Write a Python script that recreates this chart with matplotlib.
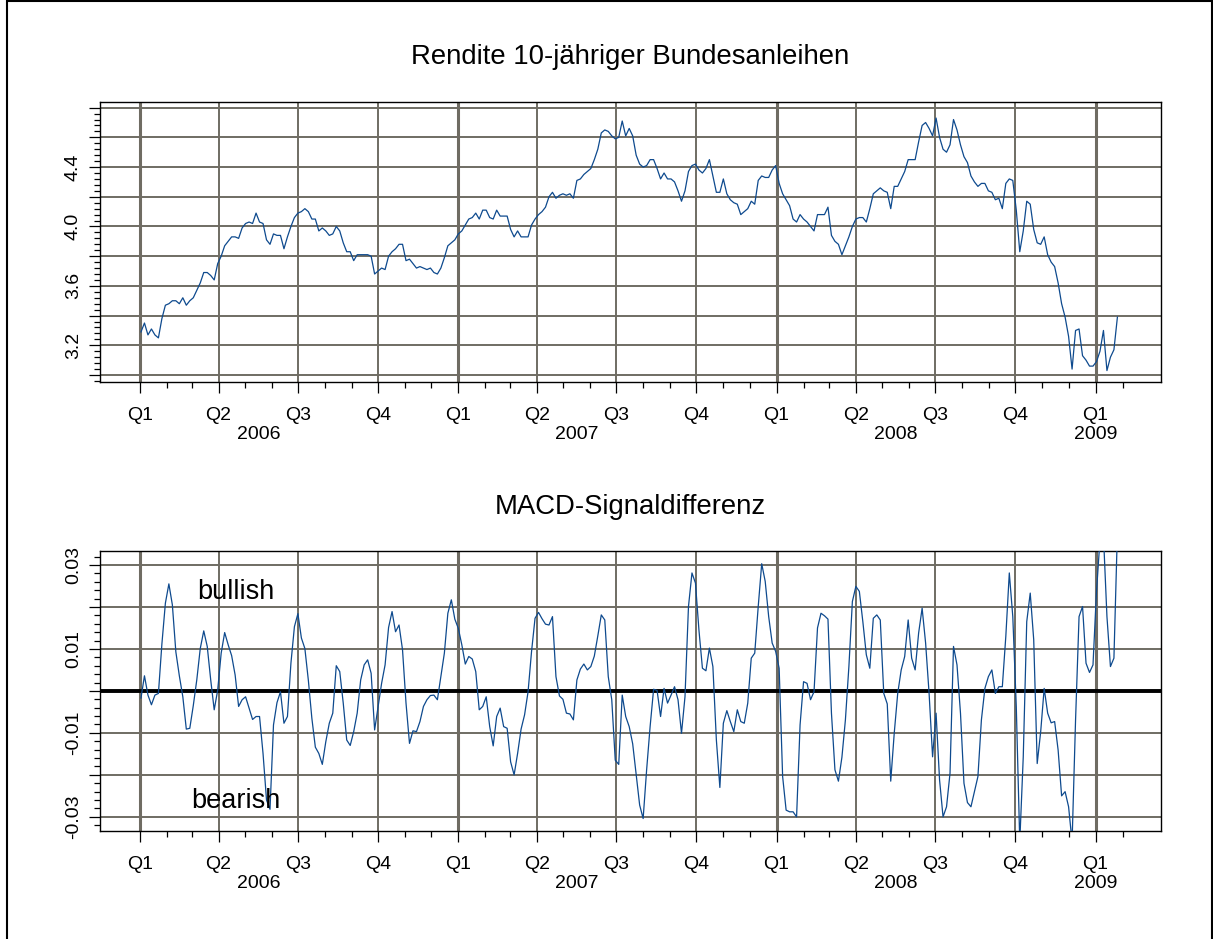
import numpy as np
import pandas as pd
import matplotlib
matplotlib.use("Agg")
import matplotlib.pyplot as plt
import matplotlib.dates as mdates
from matplotlib.patches import Rectangle

plt.rcParams['font.family'] = ['Liberation Sans', 'DejaVu Sans']

# values read every 4th calendar day, starting 2006-01-02
start_date = "2006-01-02"

yields = [
    3.29, 3.35, 3.27, 3.31, 3.27, 3.25, 3.38, 3.47, 3.48, 3.50,
    3.50, 3.48, 3.52, 3.47, 3.50, 3.52, 3.57, 3.62, 3.69, 3.69,
    3.67, 3.64, 3.75, 3.80, 3.87, 3.90, 3.93, 3.93, 3.92, 3.99,
    4.02, 4.03, 4.02, 4.09, 4.03, 4.02, 3.91, 3.88, 3.95, 3.94,
    3.94, 3.85, 3.93, 4.00, 4.06, 4.09, 4.10, 4.12, 4.10, 4.05,
    4.05, 3.97, 3.99, 3.97, 3.94, 3.95, 4.00, 3.97, 3.89, 3.83,
    3.83, 3.77, 3.81, 3.81, 3.81, 3.81, 3.80, 3.68, 3.70, 3.72,
    3.71, 3.80, 3.83, 3.85, 3.88, 3.88, 3.77, 3.78, 3.75, 3.72,
    3.73, 3.72, 3.71, 3.72, 3.69, 3.68, 3.72, 3.79, 3.87, 3.89,
    3.91, 3.95, 3.97, 4.01, 4.05, 4.06, 4.09, 4.05, 4.11, 4.11,
    4.06, 4.05, 4.11, 4.07, 4.07, 4.07, 3.98, 3.93, 3.97, 3.93,
    3.93, 3.93, 4.01, 4.05, 4.08, 4.10, 4.13, 4.20, 4.23, 4.19,
    4.21, 4.22, 4.21, 4.22, 4.19, 4.31, 4.32, 4.35, 4.37, 4.39,
    4.45, 4.52, 4.63, 4.65, 4.64, 4.61, 4.59, 4.60, 4.71, 4.61,
    4.66, 4.61, 4.48, 4.42, 4.40, 4.41, 4.45, 4.45, 4.39, 4.32,
    4.36, 4.32, 4.32, 4.30, 4.24, 4.17, 4.24, 4.37, 4.41, 4.42,
    4.38, 4.36, 4.39, 4.45, 4.34, 4.23, 4.23, 4.32, 4.22, 4.18,
    4.16, 4.15, 4.08, 4.10, 4.12, 4.17, 4.15, 4.31, 4.34, 4.33,
    4.33, 4.38, 4.41, 4.29, 4.22, 4.18, 4.14, 4.05, 4.03, 4.08,
    4.05, 4.03, 4.00, 3.97, 4.08, 4.08, 4.08, 4.13, 3.94, 3.90,
    3.88, 3.81, 3.87, 3.93, 4.00, 4.05, 4.06, 4.06, 4.03, 4.12,
    4.22, 4.24, 4.26, 4.24, 4.23, 4.12, 4.27, 4.27, 4.32, 4.37,
    4.45, 4.45, 4.45, 4.57, 4.68, 4.70, 4.66, 4.61, 4.73, 4.60,
    4.52, 4.50, 4.55, 4.72, 4.65, 4.55, 4.47, 4.43, 4.34, 4.30,
    4.27, 4.29, 4.29, 4.24, 4.23, 4.18, 4.19, 4.12, 4.29, 4.32,
    4.31, 4.11, 3.83, 3.97, 4.17, 4.15, 3.98, 3.89, 3.88, 3.93,
    3.81, 3.76, 3.73, 3.62, 3.48, 3.39, 3.26, 3.04, 3.30, 3.31,
    3.13, 3.10, 3.06, 3.06, 3.09, 3.16, 3.30, 3.03, 3.12, 3.17, 3.39,
]

macd = [
    -0.0017, 0.0036, -0.0010, -0.0033, -0.0010, -0.0006, 0.0112, 0.0209, 0.0255, 0.0205,
    0.0093, 0.0036, -0.0014, -0.0091, -0.0089, -0.0035, 0.0026, 0.0101, 0.0143, 0.0106,
    0.0026, -0.0045, 0.0002, 0.0090, 0.0139, 0.0110, 0.0084, 0.0038, -0.0037, -0.0021,
    -0.0014, -0.0041, -0.0068, -0.0061, -0.0061, -0.0149, -0.0260, -0.0282, -0.0081, -0.0028,
    -0.0002, -0.0077, -0.0061, 0.0066, 0.0153, 0.0184, 0.0126, 0.0101, 0.0025, -0.0065,
    -0.0134, -0.0149, -0.0175, -0.0121, -0.0077, -0.0053, 0.0060, 0.0046, -0.0029, -0.0117,
    -0.0130, -0.0097, -0.0053, 0.0026, 0.0062, 0.0074, 0.0042, -0.0093, -0.0037, 0.0018,
    0.0062, 0.0151, 0.0189, 0.0141, 0.0157, 0.0098, -0.0029, -0.0125, -0.0095, -0.0097,
    -0.0073, -0.0037, -0.0021, -0.0011, -0.0010, -0.0021, 0.0034, 0.0090, 0.0185, 0.0217,
    0.0171, 0.0149, 0.0110, 0.0064, 0.0082, 0.0076, 0.0046, -0.0045, -0.0037, -0.0014,
    -0.0085, -0.0131, -0.0061, -0.0041, -0.0085, -0.0089, -0.0169, -0.0200, -0.0149, -0.0091,
    -0.0057, -0.0002, 0.0094, 0.0173, 0.0187, 0.0172, 0.0159, 0.0157, 0.0177, 0.0034,
    -0.0012, -0.0020, -0.0053, -0.0055, -0.0069, 0.0026, 0.0052, 0.0064, 0.0050, 0.0058,
    0.0083, 0.0131, 0.0181, 0.0169, 0.0034, -0.0021, -0.0165, -0.0175, -0.0010, -0.0061,
    -0.0085, -0.0126, -0.0200, -0.0272, -0.0304, -0.0188, -0.0085, 0.0004, 0.0001, -0.0061,
    0.0006, -0.0029, -0.0010, 0.0010, -0.0021, -0.0101, -0.0014, 0.0201, 0.0281, 0.0257,
    0.0145, 0.0054, 0.0048, 0.0102, 0.0058, -0.0117, -0.0230, -0.0077, -0.0047, -0.0073,
    -0.0097, -0.0045, -0.0073, -0.0077, -0.0029, 0.0078, 0.0090, 0.0201, 0.0303, 0.0261,
    0.0177, 0.0114, 0.0094, 0.0054, -0.0204, -0.0284, -0.0288, -0.0288, -0.0300, -0.0081,
    0.0022, 0.0018, -0.0021, -0.0002, 0.0150, 0.0185, 0.0179, 0.0171, -0.0053, -0.0188,
    -0.0215, -0.0158, -0.0069, 0.0058, 0.0213, 0.0249, 0.0237, 0.0165, 0.0086, 0.0054,
    0.0173, 0.0181, 0.0169, -0.0006, -0.0031, -0.0215, -0.0101, -0.0006, 0.0050, 0.0082,
    0.0169, 0.0078, 0.0050, 0.0138, 0.0197, 0.0114, -0.0006, -0.0157, -0.0053, -0.0212,
    -0.0300, -0.0276, -0.0196, 0.0106, 0.0062, -0.0053, -0.0220, -0.0266, -0.0276, -0.0240,
    -0.0204, -0.0069, 0.0006, 0.0034, 0.0050, -0.0006, 0.0010, 0.0010, 0.0130, 0.0281,
    0.0177, -0.0037, -0.0360, -0.0157, 0.0165, 0.0233, 0.0122, -0.0173, -0.0097, 0.0006,
    -0.0053, -0.0076, -0.0073, -0.0141, -0.0250, -0.0240, -0.0276, -0.0360, -0.0069, 0.0177,
    0.0201, 0.0066, 0.0044, 0.0062, 0.0237, 0.0360, 0.0370, 0.0177, 0.0058, 0.0078, 0.0380,
]

dates = pd.date_range(start_date, periods=len(yields), freq="4D")

quarter_names = ["Q1", "Q2", "Q3", "Q4"]
years = [2006, 2007, 2008, 2009]
titles = ["Rendite 10-jähriger Bundesanleihen", "MACD-Signaldifferenz"]

yield_grid = [3.0, 3.2, 3.4, 3.6, 3.8, 4.0, 4.2, 4.4, 4.6, 4.8]
yield_labels = [3.2, 3.6, 4.0, 4.4]
macd_grid = [-0.03, -0.02, -0.01, 0.0, 0.01, 0.02, 0.03]
macd_labels = [-0.03, -0.01, 0.01, 0.03]

qdates = pd.date_range("2006-01-01", "2009-01-01", freq="QS")
mdates_minor = pd.date_range("2006-01-01", "2009-02-01", freq="MS")
x_range = (pd.Timestamp("2005-11-16"), pd.Timestamp("2009-03-17"))

grid_col = "#6f6c63"
line_col = "#0e4a8e"
fs_tick = 14

fig = plt.figure(figsize=(12.13, 9.39), dpi=100)
ax1 = fig.add_axes([100 / 1213, 1 - 382 / 939, 1061 / 1213, 280 / 939])
ax2 = fig.add_axes([100 / 1213, 1 - 830.7 / 939, 1061 / 1213, 280 / 939])


def style(ax, grid_vals, label_vals, minor_step, ylim, fmt):
    ax.set_xlim(*x_range)
    ax.set_xticks(qdates)
    ax.set_xticklabels([quarter_names[(d.month - 1) // 3] for d in qdates], fontsize=fs_tick)
    ax.set_xticks(mdates_minor, minor=True)
    ax.set_yticks(grid_vals)
    ax.set_yticklabels([fmt(v) if any(abs(v - l) < 1e-9 for l in label_vals) else ""
                        for v in grid_vals], fontsize=fs_tick, rotation=90, va="center")
    ax.set_yticks(np.arange(grid_vals[0] - 10 * minor_step, grid_vals[-1] + 5 * minor_step, minor_step),
                  minor=True)
    ax.set_ylim(*ylim)
    ax.tick_params(axis="both", which="major", length=8, width=0.9, direction="out")
    ax.tick_params(axis="both", which="minor", length=4.5, width=0.9, direction="out")
    ax.tick_params(axis="x", which="major", pad=10)
    ax.tick_params(axis="y", which="major", pad=5)
    for d in qdates:
        ax.axvline(d, color=grid_col, lw=2.2 if d.month == 1 else 1.4, zorder=1)
    for v in grid_vals:
        ax.axhline(v, color=grid_col, lw=1.4, zorder=1)
    for yr in years:
        qs = [mdates.date2num(d) for d in qdates if d.year == yr]
        ax.annotate(str(yr), xy=(np.mean(qs), 0), xycoords=("data", "axes fraction"),
                    xytext=(0, -38), textcoords="offset points",
                    ha="center", va="center", fontsize=fs_tick)
    for sp in ax.spines.values():
        sp.set_linewidth(1.0)


style(ax1, yield_grid, yield_labels, 0.04, (2.953, 4.838), lambda v: f"{v:.1f}")
style(ax2, macd_grid, macd_labels, 0.002, (-0.0333, 0.0334), lambda v: f"{v:.2f}")

ax1.plot(dates, yields, color=line_col, lw=0.9, zorder=3)
ax2.axhline(0, color="black", lw=2.8, zorder=2)
ax2.plot(dates, macd, color=line_col, lw=0.9, zorder=3)

ax2.text(pd.Timestamp("2006-04-21"), 0.0236, "bullish", fontsize=19.5, ha="center", va="center", zorder=4)
ax2.text(pd.Timestamp("2006-04-21"), -0.0262, "bearish", fontsize=19.5, ha="center", va="center", zorder=4)

fig.text(630.5 / 1213, 1 - 57 / 939, titles[0], fontsize=19.8, ha="center", va="center")
fig.text(630.5 / 1213, 1 - 507 / 939, titles[1], fontsize=19.8, ha="center", va="center")

fig.add_artist(Rectangle((7 / 1213, -0.05), 1205 / 1213, 1.05 - 1 / 939, transform=fig.transFigure,
                         fill=False, edgecolor="black", lw=1.5))

fig.savefig("out.png", dpi=100)
